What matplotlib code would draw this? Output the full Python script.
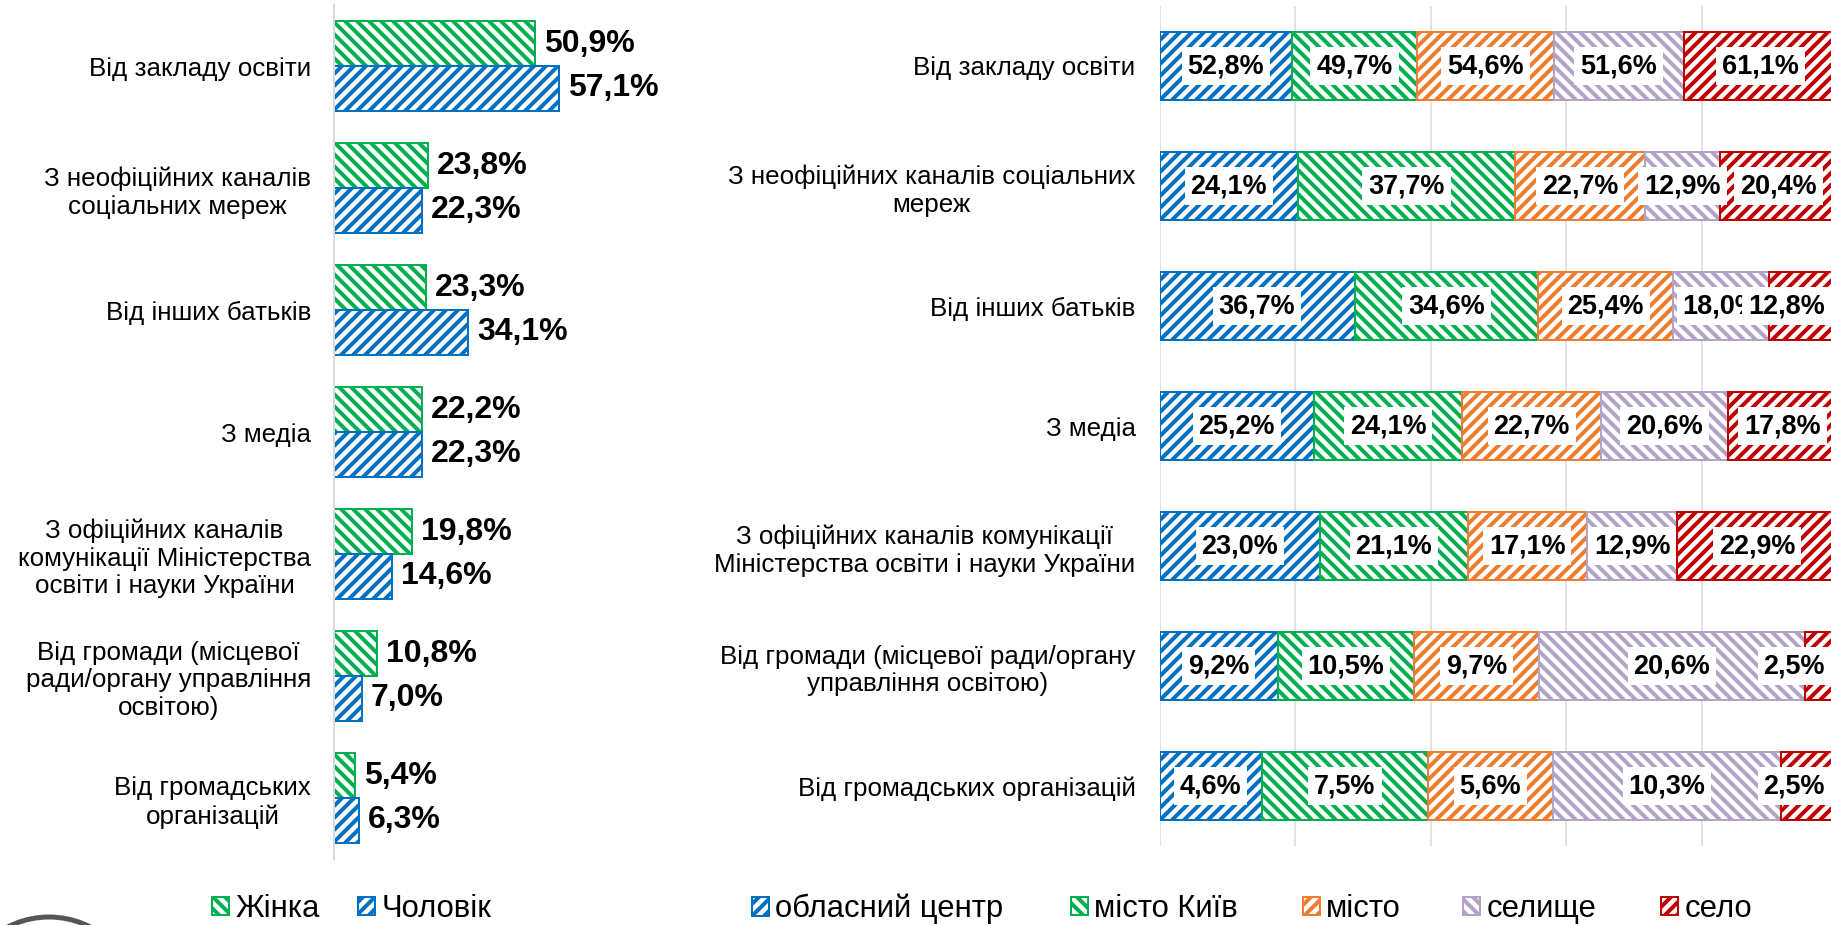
import numpy as np
import matplotlib
matplotlib.use('Agg')
import matplotlib.pyplot as plt
from matplotlib.patches import Patch, Ellipse

# --- data ---
gender_cats = ['Від закладу освіти',
               'З неофіційних каналів\nсоціальних мереж',
               'Від інших батьків',
               'З медіа',
               'З офіційних каналів\nкомунікації Міністерства\nосвіти і науки України',
               'Від громади (місцевої\nради/органу управління\nосвітою)',
               'Від громадських\nорганізацій']
women = [50.9, 23.8, 23.3, 22.2, 19.8, 10.8, 5.4]
men = [57.1, 22.3, 34.1, 22.3, 14.6, 7.0, 6.3]

settle_cats = ['Від закладу освіти',
               'З неофіційних каналів соціальних\nмереж',
               'Від інших батьків',
               'З медіа',
               'З офіційних каналів комунікації\nМіністерства освіти і науки України',
               'Від громади (місцевої ради/органу\nуправління освітою)',
               'Від громадських організацій']
settle_names = ['обласний центр', 'місто Київ', 'місто', 'селище', 'село']
oblast_center = [52.8, 24.1, 36.7, 25.2, 23.0, 9.2, 4.6]
kyiv = [49.7, 37.7, 34.6, 24.1, 21.1, 10.5, 7.5]
town = [54.6, 22.7, 25.4, 22.7, 17.1, 9.7, 5.6]
settlement = [51.6, 12.9, 18.0, 20.6, 12.9, 20.6, 10.3]
village = [61.1, 20.4, 12.8, 17.8, 22.9, 2.5, 2.5]

# --- styles ---
BLUE, GREEN, ORANGE, LILAC, RED = '#0070C0', '#00B050', '#ED7D31', '#B3A2C7', '#C00000'
settle_colors = [BLUE, GREEN, ORANGE, LILAC, RED]
settle_hatch = ['//', '\\\\', '//', '\\\\', '//']

plt.rcParams['font.family'] = ['Liberation Sans', 'DejaVu Sans']
plt.rcParams['hatch.linewidth'] = 4.0

W, H = 1831, 925
fig = plt.figure(figsize=(W / 72, H / 72), dpi=72)


def fmt(v):
    return f'{v:.1f}'.replace('.', ',') + '%'


# ---------- left chart: by gender ----------
ax1 = fig.add_axes([334 / W, 1 - 859 / H, 276 / W, 854 / H])
y = np.arange(len(gender_cats))
h = 0.365
b_w = ax1.barh(y - h / 2, women, height=h, color='white', edgecolor=GREEN,
               hatch='\\\\', linewidth=2)
b_m = ax1.barh(y + h / 2, men, height=h, color='white', edgecolor=BLUE,
               hatch='//', linewidth=2)
for bars, vals in [(b_w, women), (b_m, men)]:
    for rect, v in zip(bars, vals):
        ax1.annotate(fmt(v), (v, rect.get_y() + rect.get_height() / 2),
                     xytext=(9, 0), textcoords='offset points', va='center',
                     ha='left', fontsize=32, fontweight='bold',
                     annotation_clip=False)
ax1.set_xlim(0, 70)
ax1.set_ylim(len(gender_cats) - 0.5, -0.5)
ax1.set_yticks(y, labels=gender_cats, fontsize=26)
for lbl in ax1.get_yticklabels():
    lbl.set_multialignment('center')
ax1.tick_params(axis='y', length=0, pad=23)
ax1.set_xticks([])
for s in ['top', 'right', 'bottom']:
    ax1.spines[s].set_visible(False)
ax1.spines['left'].set_color('#D9D9D9')
ax1.spines['left'].set_linewidth(2)

# ---------- right chart: by settlement type (100% stacked) ----------
ax2 = fig.add_axes([1159.5 / W, 1 - 846 / H, 677.5 / W, 840 / H])
series = np.array([oblast_center, kyiv, town, settlement, village])
shares = series / series.sum(axis=0) * 100
left = np.zeros(len(settle_cats))
yr = np.arange(len(settle_cats))
labels_r = []
for vals, shr, col, hat in zip(series, shares, settle_colors, settle_hatch):
    ax2.barh(yr, shr, left=left, height=0.57, color='white', edgecolor=col,
             hatch=hat, linewidth=2)
    for yi, v, s, l in zip(yr, vals, shr, left):
        t = ax2.text(l + s / 2, yi, fmt(v), ha='center', va='center',
                     fontsize=27, fontweight='bold', clip_on=False,
                     bbox=dict(boxstyle='square,pad=0.22', fc='white', ec='none'))
        labels_r.append(t)
    left = left + shr

ax2.set_xlim(0, 100)
ax2.set_ylim(len(settle_cats) - 0.5, -0.5)
ax2.set_xticks(np.arange(0, 101, 20))
ax2.tick_params(axis='x', length=0, labelbottom=False)
ax2.set_yticks(yr, labels=settle_cats, fontsize=26)
for lbl in ax2.get_yticklabels():
    lbl.set_multialignment('center')
ax2.tick_params(axis='y', length=0, pad=24)
ax2.grid(axis='x', color='#D9D9D9', linewidth=1.5)
ax2.set_axisbelow(True)
for s in ax2.spines.values():
    s.set_visible(False)

# ---------- legends ----------
leg_kw = dict(loc='center left', frameon=False, prop=dict(size=31),
              handlelength=0.55, handleheight=0.55, handletextpad=0.2,
              borderpad=0, borderaxespad=0)
fig.legend(handles=[Patch(facecolor='white', edgecolor=GREEN, hatch='\\\\', linewidth=2, label='Жінка'),
                    Patch(facecolor='white', edgecolor=BLUE, hatch='//', linewidth=2, label='Чоловік')],
           bbox_to_anchor=(212 / W, 1 - 909 / H), ncol=2, columnspacing=1.25,
           **leg_kw)

leg_x = [752, 1071, 1303, 1463, 1661]
for name, col, hat, lx in zip(settle_names, settle_colors, settle_hatch, leg_x):
    fig.legend(handles=[Patch(facecolor='white', edgecolor=col, hatch=hat,
                              linewidth=2, label=name)],
               bbox_to_anchor=(lx / W, 1 - 909 / H), **leg_kw)

# partial logo ring in the bottom-left corner
fig.add_artist(Ellipse((49 / W, 1 - 1007 / H), 180 / W, 180 / H,
                       transform=fig.transFigure, fill=False,
                       edgecolor='#55555C', linewidth=5))

# keep labels of the last segment inside the picture, as the original does
fig.canvas.draw()
r = fig.canvas.get_renderer()
for t in labels_r:
    bb = t.get_window_extent(r)
    if bb.x1 > W - 6:
        dx = bb.x1 - (W - 6)
        x0, y0 = t.get_position()
        xp = ax2.transData.transform((x0, y0))[0] - dx
        t.set_x(ax2.transData.inverted().transform((xp, 0))[0])

fig.savefig('out.png', dpi=72)
